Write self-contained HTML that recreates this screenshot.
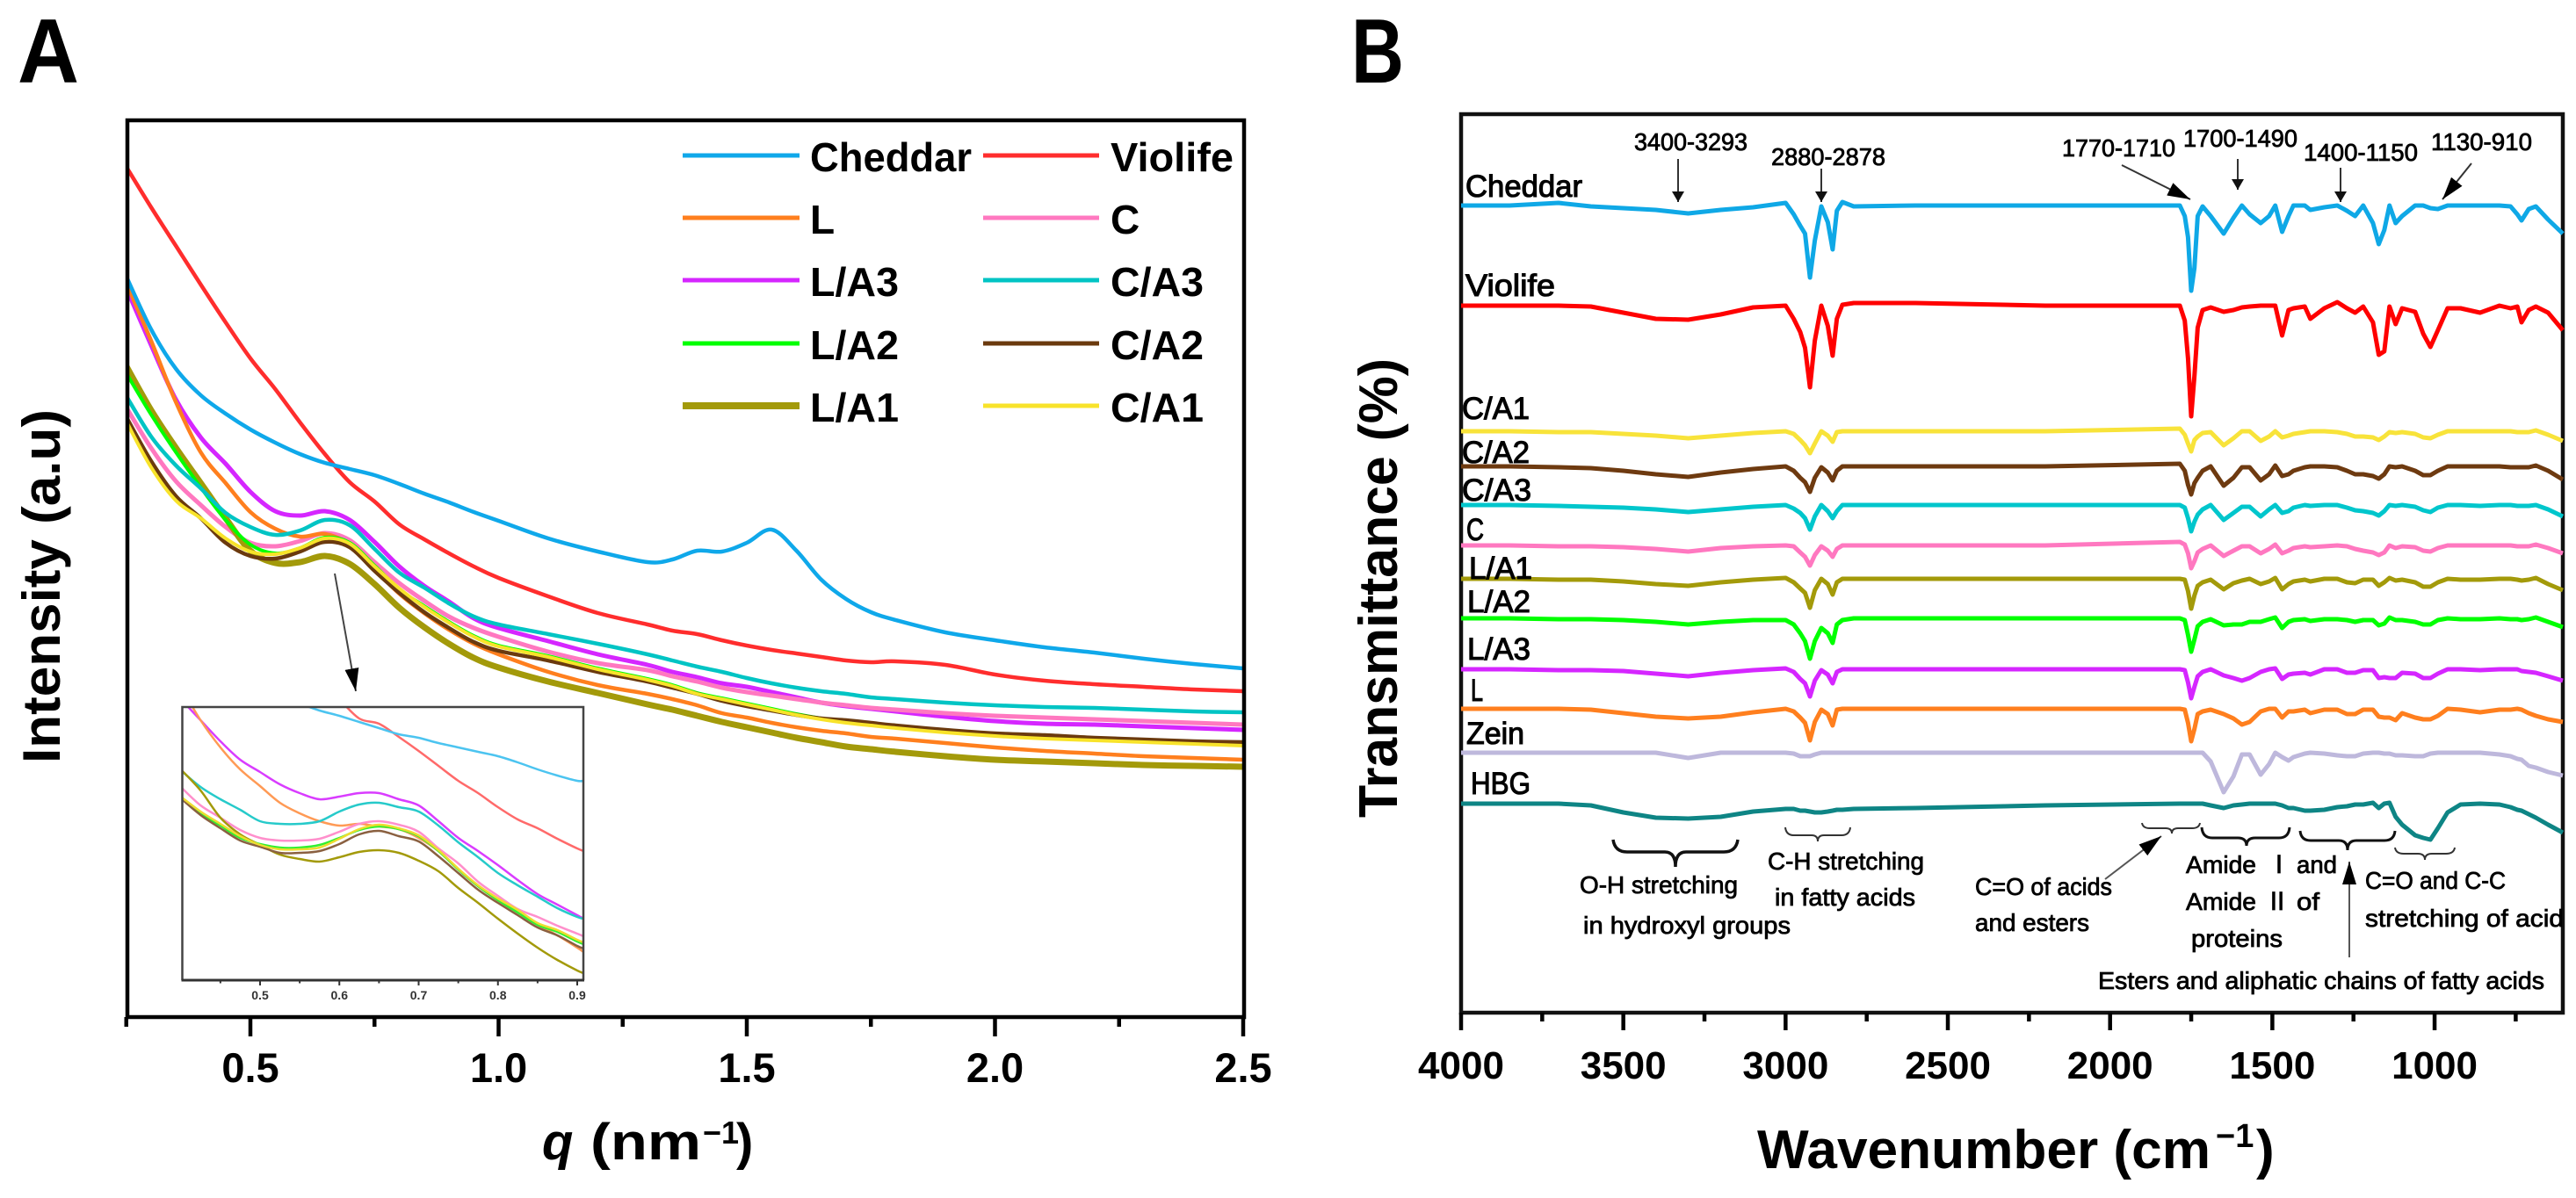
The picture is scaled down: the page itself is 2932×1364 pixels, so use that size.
<!DOCTYPE html>
<html lang="en">
<head>
<meta charset="utf-8">
<title>SAXS and FTIR spectra of cheese samples</title>
<style>
html,body{margin:0;padding:0;background:#fff;}
svg{display:block;}
text{font-family:"Liberation Sans","Noto Sans CJK SC",sans-serif;fill:#000;}
.bold{font-weight:bold;}
.note{font-size:28px;stroke:#000;stroke-width:.8px;}
.sample{font-size:35px;stroke:#000;stroke-width:1.1px;}
.legend{font-size:46px;font-weight:bold;}
.tick{font-weight:bold;text-anchor:middle;}
.axis-title{font-weight:bold;}
.ann{stroke:#333;fill:none;stroke-width:2;}
</style>
</head>
<body>
<svg id="figure" xmlns="http://www.w3.org/2000/svg" width="2932" height="1364" viewBox="0 0 2932 1364">
<defs>
<marker id="head-small" markerUnits="userSpaceOnUse" markerWidth="16" markerHeight="16" refX="12" refY="7" orient="auto"><path d="M0 0L12 7L0 14Z" fill="#111"/></marker>
<marker id="head-large" markerUnits="userSpaceOnUse" markerWidth="30" markerHeight="18" refX="26" refY="8" orient="auto"><path d="M0 0L26 8L0 16Z" fill="#000"/></marker>
<clipPath id="clip-inset"><rect x="207" y="805" width="457" height="311"/></clipPath>
<clipPath id="clip-a"><rect x="145" y="137" width="1271" height="1021"/></clipPath>
</defs>
<rect width="2932" height="1364" fill="#fff"/>

<text class="bold" x="20" y="94" font-size="104" textLength="70" lengthAdjust="spacingAndGlyphs">A</text>
<text class="bold" x="1538" y="94" font-size="104" textLength="60" lengthAdjust="spacingAndGlyphs">B</text>

<g id="panel-a">
<g id="a-series" clip-path="url(#clip-a)"></g>
<rect x="145" y="137" width="1271" height="1021" fill="none" stroke="#000" stroke-width="4.5"/>
<g id="a-ticks"></g>
<text class="axis-title" transform="translate(68,869) rotate(-90)" font-size="60" textLength="403" lengthAdjust="spacingAndGlyphs">Intensity (a.u)</text>
<text class="axis-title" y="1320" font-size="58"><tspan x="617" font-style="italic">q</tspan><tspan x="672" textLength="126" lengthAdjust="spacingAndGlyphs">(nm</tspan><tspan x="800" y="1302" font-size="36">−1</tspan><tspan x="838" y="1320">)</tspan></text>

<g>
<line x1="777" x2="910" y1="177" y2="177" stroke="#0FA8EA" stroke-width="5"/><text class="legend" x="922" y="195" textLength="184" lengthAdjust="spacingAndGlyphs">Cheddar</text>
<line x1="1119" x2="1251" y1="177" y2="177" stroke="#FF2D2D" stroke-width="5"/><text class="legend" x="1264" y="195" textLength="140" lengthAdjust="spacingAndGlyphs">Violife</text>
<line x1="777" x2="910" y1="248" y2="248" stroke="#FF7F1E" stroke-width="5"/><text class="legend" x="922" y="266">L</text>
<line x1="1119" x2="1251" y1="248" y2="248" stroke="#FF78C0" stroke-width="5"/><text class="legend" x="1264" y="266">C</text>
<line x1="777" x2="910" y1="319" y2="319" stroke="#D526FF" stroke-width="5"/><text class="legend" x="922" y="337" textLength="101" lengthAdjust="spacingAndGlyphs">L/A3</text>
<line x1="1119" x2="1251" y1="319" y2="319" stroke="#00C4C4" stroke-width="5"/><text class="legend" x="1264" y="337" textLength="106" lengthAdjust="spacingAndGlyphs">C/A3</text>
<line x1="777" x2="910" y1="391" y2="391" stroke="#00FF00" stroke-width="5"/><text class="legend" x="922" y="409" textLength="101" lengthAdjust="spacingAndGlyphs">L/A2</text>
<line x1="1119" x2="1251" y1="391" y2="391" stroke="#6B3A0E" stroke-width="5"/><text class="legend" x="1264" y="409" textLength="106" lengthAdjust="spacingAndGlyphs">C/A2</text>
<line x1="777" x2="910" y1="462" y2="462" stroke="#A39A0A" stroke-width="8"/><text class="legend" x="922" y="480" textLength="101" lengthAdjust="spacingAndGlyphs">L/A1</text>
<line x1="1119" x2="1251" y1="462" y2="462" stroke="#F8E32A" stroke-width="5"/><text class="legend" x="1264" y="480" textLength="106" lengthAdjust="spacingAndGlyphs">C/A1</text>
</g>

<line x1="381" y1="653" x2="405" y2="787" stroke="#444" stroke-width="2" marker-end="url(#head-large)"/>

<g>
<rect x="207.5" y="805" width="456.5" height="311" fill="#fff"/>
<g id="inset-series" clip-path="url(#clip-inset)"></g>
<path d="M207.5 1116V805H664V1116" fill="none" stroke="#444" stroke-width="2.5"/>
<line x1="206.5" x2="665" y1="1116" y2="1116" stroke="#333" stroke-width="3"/>
<g id="inset-ticks"></g>
</g>
</g>

<g id="panel-b">
<rect x="1663" y="130" width="1254" height="1023" fill="none" stroke="#111" stroke-width="4.5"/>
<g id="b-series"></g>
<g id="b-ticks"></g>
<text class="axis-title" transform="translate(1590,931) rotate(-90)" font-size="62" textLength="523" lengthAdjust="spacingAndGlyphs">Transmittance (%)</text>
<text class="axis-title" font-size="62" y="1330"><tspan x="2000" textLength="516" lengthAdjust="spacingAndGlyphs">Wavenumber (cm</tspan><tspan x="2522" y="1306" font-size="38">−1</tspan><tspan x="2568" y="1330">)</tspan></text>

<text class="sample" x="1668" y="224" textLength="133" lengthAdjust="spacingAndGlyphs">Cheddar</text>
<text class="sample" x="1668" y="337" textLength="102" lengthAdjust="spacingAndGlyphs">Violife</text>
<text class="sample" x="1664" y="477" textLength="77" lengthAdjust="spacingAndGlyphs">C/A1</text>
<text class="sample" x="1664" y="527" textLength="77" lengthAdjust="spacingAndGlyphs">C/A2</text>
<text class="sample" x="1664" y="570" textLength="79" lengthAdjust="spacingAndGlyphs">C/A3</text>
<text class="sample" x="1669" y="615" textLength="20" lengthAdjust="spacingAndGlyphs">C</text>
<text class="sample" x="1672" y="659" textLength="72" lengthAdjust="spacingAndGlyphs">L/A1</text>
<text class="sample" x="1670" y="697" textLength="72" lengthAdjust="spacingAndGlyphs">L/A2</text>
<text class="sample" x="1670" y="751" textLength="72" lengthAdjust="spacingAndGlyphs">L/A3</text>
<text class="sample" x="1674" y="798" textLength="14" lengthAdjust="spacingAndGlyphs">L</text>
<text class="sample" x="1669" y="847" textLength="66" lengthAdjust="spacingAndGlyphs">Zein</text>
<text class="sample" x="1674" y="904" textLength="68" lengthAdjust="spacingAndGlyphs">HBG</text>

<text class="note" x="1860" y="171" textLength="129" lengthAdjust="spacingAndGlyphs">3400-3293</text>
<text class="note" x="2016" y="188" textLength="130" lengthAdjust="spacingAndGlyphs">2880-2878</text>
<text class="note" x="2347" y="178" textLength="129" lengthAdjust="spacingAndGlyphs">1770-1710</text>
<text class="note" x="2485" y="167" textLength="130" lengthAdjust="spacingAndGlyphs">1700-1490</text>
<text class="note" x="2622" y="183" textLength="130" lengthAdjust="spacingAndGlyphs">1400-1150</text>
<text class="note" x="2767" y="171" textLength="115" lengthAdjust="spacingAndGlyphs">1130-910</text>

<line x1="1910" y1="181" x2="1910" y2="230" class="ann" marker-end="url(#head-small)"/>
<line x1="2073" y1="192" x2="2073" y2="230" class="ann" marker-end="url(#head-small)"/>
<line x1="2415" y1="188" x2="2493" y2="227" class="ann" marker-end="url(#head-large)"/>
<line x1="2547" y1="181" x2="2547" y2="216" class="ann" marker-end="url(#head-small)"/>
<line x1="2664" y1="191" x2="2664" y2="230" class="ann" marker-end="url(#head-small)"/>
<line x1="2813" y1="186" x2="2780" y2="227" class="ann" marker-end="url(#head-large)"/>

<path d="M1836 956Q1838 970 1852 970L1895 970Q1907 970 1907 987Q1907 970 1919 970L1962 970Q1976 970 1978 956" fill="none" stroke="#111" stroke-width="3.5"/>
<path d="M2032 942Q2033 951 2042 951L2062 951Q2069 951 2069 958Q2069 951 2076 951L2096 951Q2105 951 2106 942" fill="none" stroke="#333" stroke-width="2"/>
<path d="M2438 937Q2439 943 2447 943L2465 943Q2472 943 2472 949Q2472 943 2479 943L2495 943Q2503 943 2504 937" fill="none" stroke="#333" stroke-width="2"/>
<path d="M2506 942Q2507 954 2518 954L2547 954Q2557 954 2557 963Q2557 954 2567 954L2594 954Q2605 954 2606 942" fill="none" stroke="#111" stroke-width="3"/>
<path d="M2618 946Q2619 957 2630 957L2662 957Q2672 957 2672 968Q2672 957 2682 957L2714 957Q2725 957 2726 946" fill="none" stroke="#111" stroke-width="3"/>
<path d="M2726 965Q2727 972 2736 972L2752 972Q2760 972 2760 979Q2760 972 2768 972L2784 972Q2793 972 2794 965" fill="none" stroke="#333" stroke-width="2"/>
<line x1="2396" y1="1001" x2="2460" y2="952" stroke="#555" stroke-width="2" marker-end="url(#head-large)"/>
<line x1="2674" y1="1090" x2="2674" y2="981" stroke="#555" stroke-width="2" marker-end="url(#head-large)"/>

<text class="note" x="1798" y="1017" textLength="180" lengthAdjust="spacingAndGlyphs">O-H stretching</text>
<text class="note" x="1802" y="1063" textLength="236" lengthAdjust="spacingAndGlyphs">in hydroxyl groups</text>
<text class="note" x="2012" y="990" textLength="178" lengthAdjust="spacingAndGlyphs">C-H stretching</text>
<text class="note" x="2020" y="1031" textLength="160" lengthAdjust="spacingAndGlyphs">in fatty acids</text>
<text class="note" x="2248" y="1019" textLength="156" lengthAdjust="spacingAndGlyphs">C=O of acids</text>
<text class="note" x="2248" y="1060" textLength="130" lengthAdjust="spacingAndGlyphs">and esters</text>
<text class="note" x="2488" y="994" textLength="80" lengthAdjust="spacingAndGlyphs">Amide</text>
<text class="note" x="2580" y="994">Ⅰ</text>
<text class="note" x="2614" y="994" textLength="46" lengthAdjust="spacingAndGlyphs">and</text>
<text class="note" x="2488" y="1036" textLength="80" lengthAdjust="spacingAndGlyphs">Amide</text>
<text class="note" x="2578" y="1036">Ⅱ</text>
<text class="note" x="2614" y="1036" textLength="26" lengthAdjust="spacingAndGlyphs">of</text>
<text class="note" x="2494" y="1078" textLength="104" lengthAdjust="spacingAndGlyphs">proteins</text>
<text class="note" x="2692" y="1012" textLength="160" lengthAdjust="spacingAndGlyphs">C=O and C-C</text>
<text class="note" x="2692" y="1055" textLength="226" lengthAdjust="spacingAndGlyphs">stretching of acid</text>
<text class="note" x="2388" y="1126" textLength="508" lengthAdjust="spacingAndGlyphs">Esters and aliphatic chains of fatty acids</text>
</g>
</svg>

<script>
// ---------- Panel A: SAXS main plot data ----------
const qGrid = [0.25,0.30,0.35,0.40,0.45,0.50,0.55,0.60,0.65,0.70,0.75,0.80,0.85,0.90,0.95,1.0,1.1,1.2,1.3,1.35,1.4,1.45,1.5,1.55,1.6,1.65,1.7,1.75,1.8,1.9,2.0,2.1,2.2,2.3,2.4,2.5];
const saxsCheddar = [843,783,738,708,687,669,654,641,631,624,617,607,596,586,575,565,545,530,518,521,531,530,540,555,531,498,476,461,452,438,429,421,415,408,402,397];
const saxsViolife = [968,922,878,834,791,750,715,677,641,609,587,561,544,528,513,500,479,460,447,440,436,429,423,418,414,410,406,404,405,401,390,383,379,376,373,371];
const saxsLA3 = [830,765,703,660,630,598,576,571,576,566,541,513,491,473,454,443,428,413,401,393,387,380,376,370,364,358,354,351,348,342,337,334,333,331,329,327];
const saxsL = [836,770,700,643,608,575,556,547,550,538,510,482,460,441,425,413,393,378,368,362,355,346,341,335,330,326,323,319,317,312,307,303,300,297,295,293];
const saxsLA1 = [741,691,648,608,568,531,517,518,525,516,493,466,444,425,409,398,382,369,356,350,343,336,330,324,318,313,308,305,302,297,293,291,289,287,286,285];
const saxsCA3 = [707,661,628,602,574,558,549,554,566,560,533,506,489,471,456,447,436,425,413,406,399,393,386,380,375,371,368,364,362,358,355,353,352,350,348,347];
const saxsC = [694,648,610,583,558,540,536,542,551,543,518,494,474,456,443,433,416,403,395,388,382,375,370,366,362,358,355,352,350,346,343,341,339,337,335,333];
const saxsCA2 = [683,633,593,568,540,525,522,530,541,535,508,483,461,443,427,417,406,393,382,375,368,360,354,349,344,340,338,335,332,327,323,321,318,316,314,313];
const saxsCA1 = [678,626,588,568,545,530,527,534,545,539,513,488,467,449,433,422,410,396,384,377,368,362,356,350,344,339,335,332,329,324,320,317,315,313,311,309];
const saxsLA2 = [733,686,643,603,566,538,528,534,546,540,514,487,468,450,434,423,411,397,385,378,369,363,357,351,345,340,336,333,330,325,321,318,316,314,312,310];
const qMajorTicks = [0.5,1.0,1.5,2.0,2.5];
const qMinorTicks = [0.25,0.75,1.25,1.75,2.25];
const qTickLabels = ['0.5','1.0','1.5','2.0','2.5'];

// ---------- Panel A: inset data ----------
const insetQ = [0.40,0.425,0.45,0.475,0.5,0.525,0.55,0.575,0.6,0.625,0.65,0.675,0.7,0.725,0.75,0.775,0.8,0.825,0.85,0.875,0.9,0.908];
const insetLA3 = [320,296,272,251,237,223,213,206,209,213,213,206,199,181,162,147,131,114,98,86,74,70];
const insetL = [334,296,265,240,221,202,190,181,176,178,175,172,162,147,126,107,91,77,63,51,37,32];
const insetCA3 = [239,220,206,194,181,178,178,181,192,200,202,197,192,176,157,140,122,108,95,82,72,70];
const insetC = [220,199,185,171,162,159,159,161,169,178,181,177,169,150,133,112,96,81,72,62,53,50];
const insetLA1 = [240,216,185,166,154,143,138,135,140,146,148,145,136,124,105,88,70,53,37,23,11,8];
const insetCA2 = [207,188,173,159,152,145,145,147,155,166,170,164,158,141,122,103,88,74,60,51,39,36];
const insetLA2 = [209,190,176,162,155,151,151,154,162,171,175,172,164,147,126,107,91,77,63,55,44,41];
const insetCA1 = [209,192,178,164,154,149,149,151,161,172,177,173,165,148,127,108,93,80,65,57,46,43];
const insetViolife = [null,null,null,null,null,null,null,null,320,298,292,277,261,244,227,213,197,183,173,161,150,147];
const insetCheddar = [null,null,null,null,null,null,315,307,301,294,287,280,276,270,265,260,255,248,240,233,227,227];
const insetMajorTicks = [0.5,0.6,0.7,0.8,0.9];
const insetMinorTicks = [0.45,0.55,0.65,0.75,0.85];
const insetTickLabels = ['0.5','0.6','0.7','0.8','0.9'];

// ---------- Panel B: FTIR data (stack offset minus band depth) ----------
const wavenumbers = [4000,3850,3700,3600,3500,3400,3300,3200,3100,3000,2975,2955,2940,2925,2910,2890,2870,2855,2842,2825,2790,2600,2200,1785,
  1770,1760,1750,1740,1730,1715,1690,1650,1620,1594,1570,1536,1510,1491,1470,1450,1435,1400,1383,1340,1300,1270,1245,1220,1190,1172,1155,1139,1120,1100,1060,1035,1013,990,960,920,860,800,766,745,732,710,688,650,605];
const ftirCheddar = [0,0,-3,1,3,5,9,5,2,-3,10,23,32,82,40,1,19,50,6,-4,1,0,0,0,
  12,36,97,71,12,1,12,32,14,0,10,20,12,0,30,12,0,0,5,2,0,6,12,0,20,44,28,0,20,12,0,0,3,4,0,0,0,0,1,10,17,4,1,16,32];
const ftirViolife = [0,0,0,1,8,15,16,10,2,0,15,30,48,93,40,0,23,57,15,-1,-3,-3,0,0,
  17,60,126,80,25,5,2,7,5,2,1,0,0,0,34,5,3,1,15,3,-4,3,8,1,19,56,52,1,21,3,7,32,47,28,3,3,8,0,3,1,19,5,1,8,28];
const ftirCA1 = [0,0,1,1,3,5,8,5,2,0,3,10,16,25,14,0,5,12,1,0,0,0,0,-3,
  4,14,23,10,6,2,1,16,8,0,0,11,6,0,7,5,3,1,0,0,1,3,6,6,7,10,6,1,2,1,3,7,8,4,0,0,0,0,0,1,1,1,-1,4,11];
const ftirCA2 = [0,0,1,2,5,9,12,7,3,0,5,13,18,29,13,1,7,16,5,0,0,0,0,-3,
  5,21,32,19,13,5,0,22,13,1,1,16,9,-1,11,9,5,1,0,0,1,5,9,9,11,14,9,0,1,0,5,10,10,5,0,0,0,0,1,1,1,1,-1,5,15];
const ftirCA3 = [0,0,1,2,3,5,8,5,2,0,4,9,15,28,13,0,7,15,7,0,0,0,0,0,
  3,15,30,19,11,5,0,17,9,2,2,13,5,0,9,7,3,0,1,0,0,3,6,7,9,12,7,0,1,0,2,6,8,3,0,0,1,0,0,1,1,1,0,5,13];
const ftirC = [0,0,1,1,2,4,7,3,1,0,1,8,13,23,11,1,6,13,4,0,0,0,0,-4,
  -1,9,26,18,8,4,0,12,6,1,1,9,4,-1,9,6,3,1,2,1,0,1,4,6,8,11,8,0,3,1,2,6,7,3,0,0,0,0,0,1,1,1,-1,3,9];
const ftirLA1 = [0,0,1,1,3,6,8,4,1,-1,4,11,16,33,13,0,6,18,4,0,0,0,0,0,
  1,14,34,19,8,4,1,12,5,2,0,6,3,-1,12,6,3,1,3,0,0,4,5,1,1,8,4,-1,2,1,4,9,9,4,0,1,1,0,0,1,2,1,-1,6,13];
const ftirLA2 = [0,0,1,1,2,4,7,4,2,2,7,17,26,46,26,11,17,28,7,2,0,0,0,0,
  2,19,38,24,9,4,1,8,7,7,4,4,1,-1,11,4,2,1,3,1,1,2,4,2,2,8,6,-1,2,2,4,7,7,2,0,1,1,0,1,1,2,1,-1,4,10];
const ftirLA3 = [0,0,1,1,2,5,8,4,1,-1,3,11,16,31,13,1,6,16,3,0,0,0,0,0,
  1,15,33,20,8,3,0,7,10,13,10,3,0,-1,11,6,5,4,6,0,0,4,4,1,1,10,9,10,10,4,5,10,10,5,0,0,1,0,0,0,2,3,4,8,13];
const ftirL = [0,0,0,1,5,9,11,9,4,0,3,10,16,36,15,1,6,19,1,0,0,0,0,0,
  1,16,37,23,6,3,1,6,11,18,15,3,0,0,10,3,3,1,5,1,1,6,6,1,1,9,10,10,13,5,10,12,12,8,0,1,4,1,1,0,1,5,8,12,15];
const ftirZein = [0,0,0,0,0,0,6,0,0,0,1,4,4,4,2,0,0,0,0,0,0,0,0,0,
  0,0,0,0,0,0,10,45,27,2,2,25,13,0,5,9,5,1,0,1,3,4,4,1,0,0,1,1,3,3,4,4,1,0,0,0,0,2,4,7,8,15,17,22,26];
const ftirHBG = [0,0,0,2,10,16,17,15,9,6,6,8,8,9,10,10,9,8,7,7,6,5,2,0,
  0,0,0,0,0,0,2,5,2,1,0,0,0,0,2,5,5,8,8,7,4,3,1,1,-1,5,0,-1,15,24,36,39,41,28,10,1,0,1,4,7,8,12,16,24,33];
const ftirOffsets = [919,805,662,622,578,532,494,449,391,346,296,238];
const wnMajorTicks = [4000,3500,3000,2500,2000,1500,1000];
const wnMinorTicks = [3750,3250,2750,2250,1750,1250,750];
const wnTickLabels = ['4000','3500','3000','2500','2000','1500','1000'];

// ---------- Axis functions ----------
const xA = q => 285 + (q - 0.5) * 565;
const yA = v => 1158 - v * (1021 / 1021);
const xInset = q => 296 + (q - 0.5) * 902.5;
const yInset = v => 1116 - v * (311 / 311);
const xB = w => 1663 + (4000 - w) * (1255.8 / 3400);
const yB = v => 1153 - v * (1023 / 1023);

const NS = 'http://www.w3.org/2000/svg';
function make(tag, parent, attrs) {
  const el = document.createElementNS(NS, tag);
  for (const k in attrs) el.setAttribute(k, attrs[k]);
  parent.appendChild(el);
  return el;
}
function smoothPath(xs, ys) {
  const pts = [];
  xs.forEach((x, i) => { if (ys[i] !== null) pts.push([x, ys[i]]); });
  let d = 'M' + pts[0][0].toFixed(1) + ' ' + pts[0][1].toFixed(1);
  for (let i = 0; i < pts.length - 1; i++) {
    const p0 = pts[Math.max(i - 1, 0)], p1 = pts[i], p2 = pts[i + 1], p3 = pts[Math.min(i + 2, pts.length - 1)];
    const c1x = p1[0] + (p2[0] - p0[0]) / 6, c1y = p1[1] + (p2[1] - p0[1]) / 6;
    const c2x = p2[0] - (p3[0] - p1[0]) / 6, c2y = p2[1] - (p3[1] - p1[1]) / 6;
    d += 'C' + c1x.toFixed(1) + ' ' + c1y.toFixed(1) + ' ' + c2x.toFixed(1) + ' ' + c2y.toFixed(1) + ' ' + p2[0].toFixed(1) + ' ' + p2[1].toFixed(1);
  }
  return d;
}

// ---------- Draw panel A series ----------
const aLayer = document.getElementById('a-series');
const aSeries = [
  ['l-a3', saxsLA3, '#D526FF', 5],
  ['c', saxsC, '#FF78C0', 5],
  ['l-a1', saxsLA1, '#A39A0A', 7],
  ['l', saxsL, '#FF7F1E', 4.5],
  ['l-a2', saxsLA2, '#00FF00', 4],
  ['c-a2', saxsCA2, '#6B3A0E', 4.5],
  ['c-a1', saxsCA1, '#F8E32A', 4],
  ['c-a3', saxsCA3, '#00C4C4', 4.5],
  ['violife', saxsViolife, '#FF2D2D', 4.5],
  ['cheddar', saxsCheddar, '#0FA8EA', 4.5]
];
aSeries.forEach(s => {
  const line = make('path', aLayer, {d: smoothPath(qGrid.map(xA), s[1].map(yA)), fill: 'none', stroke: s[2], 'stroke-width': s[3], 'stroke-linejoin': 'round'});
  
  
});

// ---------- Draw inset series ----------
const insetLayer = document.getElementById('inset-series');
const inSeries = [
  ['l-a3', insetLA3, '#D93CFF'],
  ['l', insetL, '#FF9A55'],
  ['c-a3', insetCA3, '#26CACA'],
  ['c', insetC, '#FF8FCC'],
  ['l-a1', insetLA1, '#A39A0A'],
  ['l-a2', insetLA2, '#30F030'],
  ['c-a2', insetCA2, '#8A6040'],
  ['c-a1', insetCA1, '#EEDC30'],
  ['violife', insetViolife, '#FF6A6A'],
  ['cheddar', insetCheddar, '#4CC4F0']
];
inSeries.forEach(s => {
  const line = make('path', insetLayer, {d: smoothPath(insetQ.map(xInset), s[1].map(v => v === null ? null : yInset(v))), fill: 'none', stroke: s[2], 'stroke-width': 2.5, 'stroke-linejoin': 'round'});
  
  
});

// ---------- Draw panel B series ----------
const bLayer = document.getElementById('b-series');
const bSeries = [
  ['cheddar', ftirCheddar, '#0FA8E6', 5],
  ['violife', ftirViolife, '#FF0000', 5],
  ['c-a1', ftirCA1, '#F8E33A', 5],
  ['c-a2', ftirCA2, '#6E3A10', 5],
  ['c-a3', ftirCA3, '#00C6CC', 5],
  ['c', ftirC, '#FF78C0', 5],
  ['l-a1', ftirLA1, '#A39A0A', 5],
  ['l-a2', ftirLA2, '#00FF00', 5],
  ['l-a3', ftirLA3, '#D526FF', 5],
  ['l', ftirL, '#FF7F1E', 5],
  ['zein', ftirZein, '#BEB8DC', 5],
  ['hbg', ftirHBG, '#0E8585', 5]
];
bSeries.forEach((s, n) => {
  const pts = s[1].map((d, i) => xB(wavenumbers[i]).toFixed(1) + ',' + yB(ftirOffsets[n] - d).toFixed(1)).join(' ');
  const line = make('polyline', bLayer, {points: pts, fill: 'none', stroke: s[2], 'stroke-width': s[3], 'stroke-linejoin': 'round'});
  
  
});

// ---------- Draw ticks ----------
const aTicks = document.getElementById('a-ticks');
qMajorTicks.forEach((q, i) => {
  const t = make('line', aTicks, {x1: xA(q), x2: xA(q), y1: 1158, y2: 1180, stroke: '#000', 'stroke-width': 4.5});
  
  
  const lab = make('text', aTicks, {x: xA(q), y: 1232, class: 'tick', 'font-size': 47});
  lab.textContent = qTickLabels[i];
  
  
});
qMinorTicks.forEach(q => {
  const t = make('line', aTicks, {x1: xA(q), x2: xA(q), y1: 1158, y2: 1169, stroke: '#000', 'stroke-width': 4.5});
  
  
});

const inTicks = document.getElementById('inset-ticks');
insetMajorTicks.forEach((q, i) => {
  const t = make('line', inTicks, {x1: xInset(q), x2: xInset(q), y1: 1116, y2: 1122, stroke: '#333', 'stroke-width': 2});
  
  
  const lab = make('text', inTicks, {x: xInset(q), y: 1138, class: 'tick', 'font-size': 14, style: 'fill:#333'});
  lab.textContent = insetTickLabels[i];
  
  
});
insetMinorTicks.forEach(q => {
  const t = make('line', inTicks, {x1: xInset(q), x2: xInset(q), y1: 1116, y2: 1119.5, stroke: '#333', 'stroke-width': 2});
  
  
});

const bTicks = document.getElementById('b-ticks');
wnMajorTicks.forEach((w, i) => {
  const t = make('line', bTicks, {x1: xB(w), x2: xB(w), y1: 1153, y2: 1173, stroke: '#000', 'stroke-width': 4.5});
  
  
  const lab = make('text', bTicks, {x: xB(w), y: 1228, class: 'tick', 'font-size': 44});
  lab.textContent = wnTickLabels[i];
  
  
});
wnMinorTicks.forEach(w => {
  const t = make('line', bTicks, {x1: xB(w), x2: xB(w), y1: 1153, y2: 1163, stroke: '#000', 'stroke-width': 4.5});
  
  
});
</script>
</body>
</html>
